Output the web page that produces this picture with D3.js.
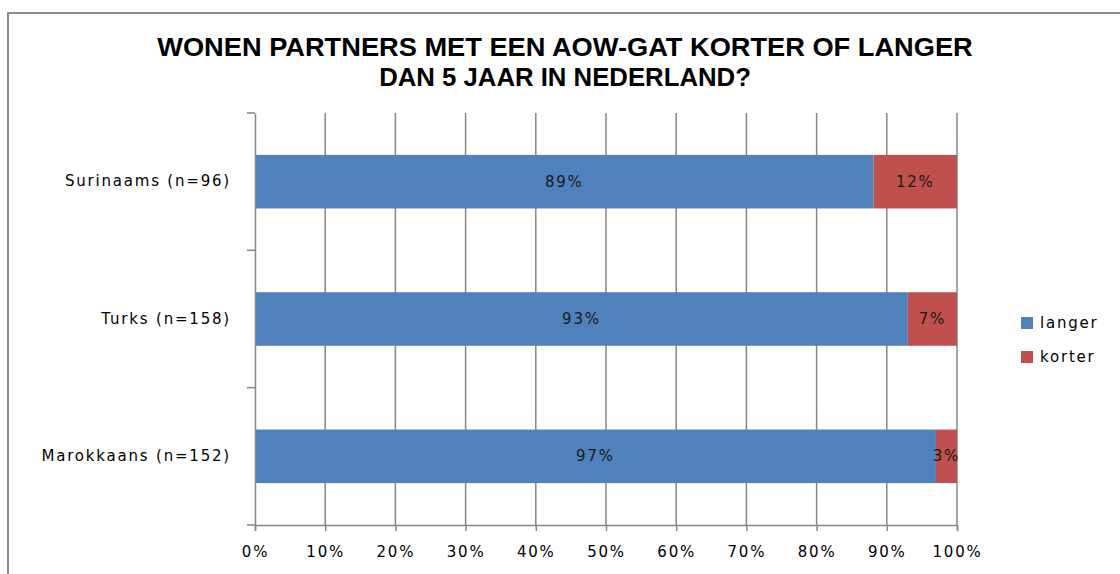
<!DOCTYPE html>
<html>
<head>
<meta charset="utf-8">
<script src="https://cdn.jsdelivr.net/npm/d3@7"></script>
<style>
  body { margin: 0; background: #fff; }
  svg { display: block; }
</style>
</head>
<body>
<div id="chart"></div>
<script>
var categories = ["Surinaams (n=96)", "Turks (n=158)", "Marokkaans (n=152)"];
var seriesNames = ["langer", "korter"];
var langer = [89, 93, 97];
var korter = [12, 7, 3];
var tickValues = [0, 0.1, 0.2, 0.3, 0.4, 0.5, 0.6, 0.7, 0.8, 0.9, 1];
var titleLines = ["WONEN PARTNERS MET EEN AOW-GAT KORTER OF LANGER", "DAN 5 JAAR IN NEDERLAND?"];
var titleWidths = [816, 372];

var width = 1120, height = 574;
var margin = {top: 113, right: 163, bottom: 49, left: 255};
var colors = d3.scaleOrdinal().domain(seriesNames).range(["#4F81BD", "#C0504D"]);
var gridColor = "#868686";
var font = "'DejaVu Sans', Verdana, sans-serif";
var spacing = "1.8px";

var rows = categories.map(function(c, i) {
  var total = langer[i] + korter[i];
  return {cat: c, langer: langer[i] / total, korter: korter[i] / total,
          labels: {langer: langer[i] + "%", korter: korter[i] + "%"}};
});

var svg = d3.select("#chart").append("svg")
    .attr("width", width)
    .attr("height", height);

// chart frame
svg.append("rect")
    .attr("x", 8).attr("y", 13)
    .attr("width", width).attr("height", height)
    .attr("fill", "none")
    .attr("stroke", "#8c8c8c")
    .attr("stroke-width", 2);

var x = d3.scaleLinear().domain([0, 1]).range([margin.left, 957]);
var y = d3.scaleBand().domain(categories).range([margin.top, height - margin.bottom]).paddingInner(0.61).paddingOuter(0.305);

// title, fitted to the reference width
svg.append("g").selectAll("text")
    .data(titleLines)
  .enter().append("text")
    .attr("text-anchor", "middle")
    .attr("font-family", "'Liberation Sans', sans-serif")
    .attr("font-weight", "bold")
    .attr("font-size", 25)
    .attr("fill", "#000")
    .text(function(d) { return d; })
    .attr("transform", function(d, i) {
      var k = titleWidths[i] / this.getComputedTextLength();
      return "translate(565," + (56 + i * 30) + ") scale(" + k + ",1)";
    });

// vertical gridlines
svg.append("g").selectAll("line")
    .data(tickValues.slice(1))
  .enter().append("line")
    .attr("x1", function(d) { return x(d); })
    .attr("x2", function(d) { return x(d); })
    .attr("y1", margin.top)
    .attr("y2", height - margin.bottom)
    .attr("stroke", gridColor)
    .attr("stroke-width", 1.5);

// stacked bars
var stack = d3.stack().keys(seriesNames);
var layers = stack(rows);

var layer = svg.append("g").selectAll("g")
    .data(layers)
  .enter().append("g")
    .attr("fill", function(d) { return colors(d.key); });

layer.selectAll("rect")
    .data(function(d) { return d; })
  .enter().append("rect")
    .attr("x", function(d) { return x(d[0]); })
    .attr("width", function(d) { return x(d[1]) - x(d[0]); })
    .attr("y", function(d) { return y(d.data.cat); })
    .attr("height", y.bandwidth());

// data labels
layer.selectAll("text")
    .data(function(d) { return d.map(function(v) { v.key = d.key; return v; }); })
  .enter().append("text")
    .attr("x", function(d) { return (x(d[0]) + x(d[1])) / 2; })
    .attr("y", function(d) { return y(d.data.cat) + y.bandwidth() / 2 + 5; })
    .attr("text-anchor", "middle")
    .attr("font-family", font)
    .attr("font-size", 15)
    .attr("letter-spacing", spacing)
    .attr("fill", "#1a1a1a")
    .text(function(d) { return d.data.labels[d.key]; });

// x axis
var xAxis = d3.axisBottom(x)
    .tickValues(tickValues)
    .tickFormat(d3.format(".0%"))
    .tickSize(6)
    .tickPadding(15);

var gx = svg.append("g")
    .attr("transform", "translate(0," + (height - margin.bottom) + ")")
    .call(xAxis);
gx.select(".domain").attr("stroke", gridColor).attr("stroke-width", 1.5);
gx.selectAll(".tick line").attr("stroke", gridColor).attr("stroke-width", 1.5);
gx.selectAll(".tick text")
    .attr("font-family", font)
    .attr("font-size", 15)
    .attr("letter-spacing", spacing)
    .attr("fill", "#000");

// y axis
var yAxis = d3.axisLeft(y).tickSize(0).tickPadding(24);
var gy = svg.append("g")
    .attr("transform", "translate(" + margin.left + ",0)")
    .call(yAxis);
gy.select(".domain").attr("stroke", gridColor).attr("stroke-width", 1.5);
gy.selectAll(".tick text")
    .attr("font-family", font)
    .attr("font-size", 15)
    .attr("letter-spacing", spacing)
    .attr("fill", "#000");

// category separator ticks
var step = y.step();
var sepY = d3.range(categories.length + 1).map(function(i) { return margin.top + i * step; });
svg.append("g").selectAll("line")
    .data(sepY)
  .enter().append("line")
    .attr("x1", margin.left - 8)
    .attr("x2", margin.left)
    .attr("y1", function(d) { return d; })
    .attr("y2", function(d) { return d; })
    .attr("stroke", gridColor)
    .attr("stroke-width", 1.5);

// legend
var legend = svg.append("g").selectAll("g")
    .data(seriesNames)
  .enter().append("g")
    .attr("transform", function(d, i) { return "translate(1021," + (317 + i * 34) + ")"; });
legend.append("rect")
    .attr("width", 12).attr("height", 12)
    .attr("fill", function(d) { return colors(d); });
legend.append("text")
    .attr("x", 19)
    .attr("y", 11)
    .attr("font-family", font)
    .attr("font-size", 15)
    .attr("letter-spacing", spacing)
    .attr("fill", "#000")
    .text(function(d) { return d; });
</script>
</body>
</html>
